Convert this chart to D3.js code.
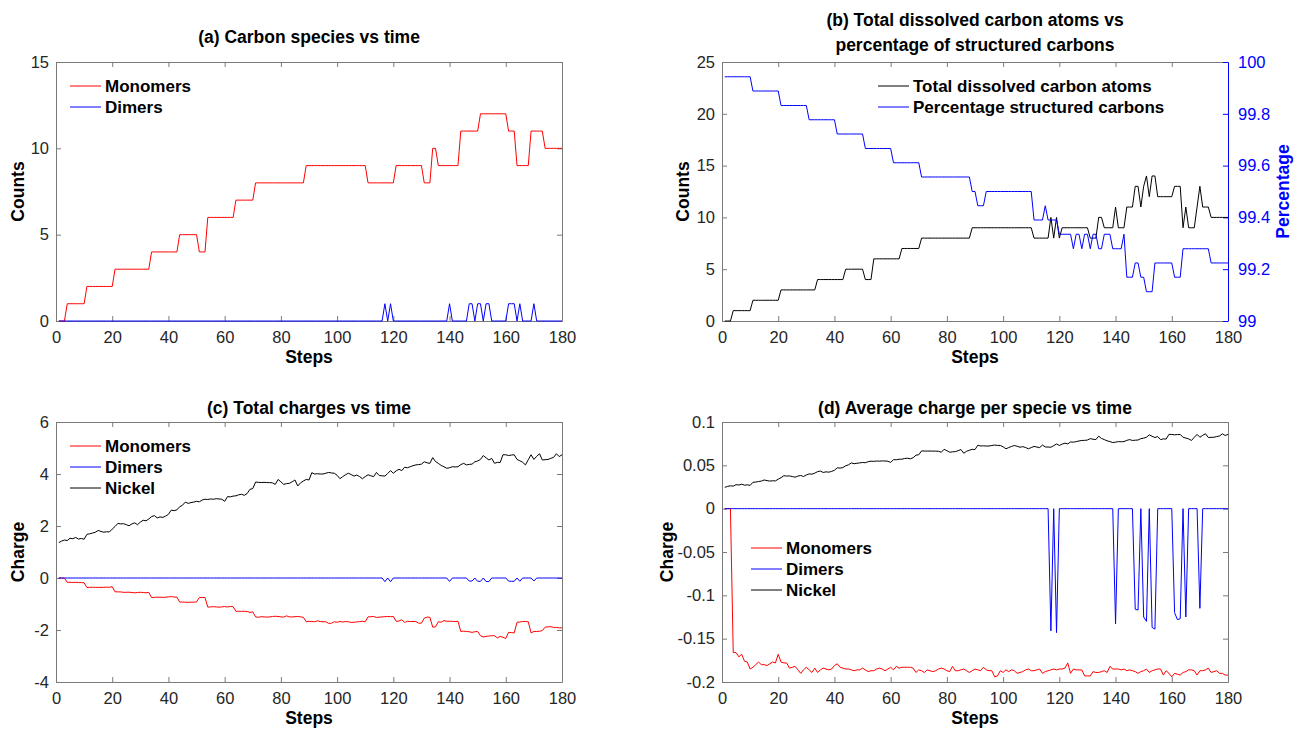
<!DOCTYPE html>
<html>
<head>
<meta charset="utf-8">
<script src="https://cdn.jsdelivr.net/npm/d3@7"></script>
<style>
  body { margin: 0; background: #fff; }
  svg { font-family: Helvetica, Arial, "Liberation Sans", sans-serif; }
  .axis path, .axis line { stroke: #7a7a7a; }
  .axis text { font-size: 16.5px; fill: #262626; }
  .axis.blue path, .axis.blue line { stroke: #0000ff; }
  .axis.blue text { fill: #0000ff; }
  .title { font-size: 17.5px; font-weight: bold; fill: #000; }
  .label { font-size: 17.5px; font-weight: bold; fill: #000; }
  .legend text { font-size: 17px; font-weight: bold; fill: #000; }
</style>
</head>
<body>
<svg id="chart" width="1306" height="736"></svg>
<script>
//simulation steps 1..180
const steps = d3.range(1, 181);
const xTicks = [0, 20, 40, 60, 80, 100, 120, 140, 160, 180];

//(a) carbon species counts
const monomerCount = [
  0,0,0,1,1,1,1,1,1,1, 2,2,2,2,2,2,2,2,2,2, 3,3,3,3,3,3,3,3,3,3,
  3,3,3,4,4,4,4,4,4,4, 4,4,4,5,5,5,5,5,5,5, 4,4,4,6,6,6,6,6,6,6,
  6,6,6,7,7,7,7,7,7,7, 8,8,8,8,8,8,8,8,8,8, 8,8,8,8,8,8,8,8,9,9,
  9,9,9,9,9,9,9,9,9,9, 9,9,9,9,9,9,9,9,9,9, 8,8,8,8,8,8,8,8,8,8,
  9,9,9,9,9,9,9,9,9,9, 8,8,8,10,10,9,9,9,9,9, 9,9,9,11,11,11,11,11,11,11,
  12,12,12,12,12,12,12,12,12,12, 11,11,11,9,9,9,9,9,11,11, 11,11,11,10,10,10,10,10,10,10
];
//steps where a dimer exists, and its charge at that step
const dimerSteps = [117, 119, 140, 147, 148, 150, 151, 153, 154, 161, 162, 163, 165, 170];
const dimerChargeAtSteps = [-0.141, -0.143, -0.133, -0.116, -0.117, -0.125, -0.130, -0.137, -0.139, -0.120, -0.128, -0.127, -0.125, -0.115];

//(b) dissolved carbon atoms and structured percentage
const dissolvedTotal = [
  0,0,0,1,1,1,1,1,1,1, 2,2,2,2,2,2,2,2,2,2, 3,3,3,3,3,3,3,3,3,3,
  3,3,3,4,4,4,4,4,4,4, 4,4,4,5,5,5,5,5,5,5, 4,4,4,6,6,6,6,6,6,6,
  6,6,6,7,7,7,7,7,7,7, 8,8,8,8,8,8,8,8,8,8, 8,8,8,8,8,8,8,8,9,9,
  9,9,9,9,9,9,9,9,9,9, 9,9,9,9,9,9,9,9,9,9, 8,8,8,8,8,8,10,8,10,8,
  9,9,9,9,9,9,9,9,9,9, 8,8,8,10,10,9,9,9,9,11, 9,9,9,11,11,11,13,13,11,13,
  14,12,14,14,12,12,12,12,12,12, 13,13,13,9,11,9,9,9,11,13, 11,11,11,10,10,10,10,10,10,10
];
const structuredPct = [
  99.943,99.943,99.943,99.943,99.943,99.943,99.943,99.943,99.943,99.943,
  99.888,99.888,99.888,99.888,99.888,99.888,99.888,99.888,99.888,99.888,
  99.832,99.832,99.832,99.832,99.832,99.832,99.832,99.832,99.832,99.832,
  99.777,99.777,99.777,99.777,99.777,99.777,99.777,99.777,99.777,99.777,
  99.722,99.722,99.722,99.722,99.722,99.722,99.722,99.722,99.722,99.722,
  99.666,99.666,99.666,99.666,99.666,99.666,99.666,99.666,99.666,99.666,
  99.611,99.611,99.611,99.611,99.611,99.611,99.611,99.611,99.611,99.611,
  99.556,99.556,99.556,99.556,99.556,99.556,99.556,99.556,99.556,99.556,
  99.556,99.556,99.556,99.556,99.556,99.556,99.556,99.556,99.500,99.500,
  99.445,99.445,99.445,99.500,99.500,99.500,99.500,99.500,99.500,99.500,
  99.500,99.500,99.500,99.500,99.500,99.500,99.500,99.500,99.500,99.500,
  99.390,99.390,99.390,99.390,99.445,99.390,99.390,99.390,99.390,99.335,
  99.335,99.335,99.335,99.335,99.279,99.335,99.335,99.279,99.335,99.335,
  99.279,99.335,99.335,99.279,99.279,99.335,99.335,99.335,99.279,99.279,
  99.279,99.279,99.335,99.169,99.169,99.169,99.224,99.224,99.169,99.169,
  99.113,99.113,99.113,99.224,99.224,99.224,99.224,99.224,99.224,99.224,
  99.169,99.169,99.169,99.279,99.279,99.279,99.279,99.279,99.279,99.279,
  99.279,99.279,99.279,99.224,99.224,99.224,99.224,99.224,99.224,99.224
];

//(c) total charges
const monomerCharge = [
  0,0,0,-0.166,-0.166,-0.171,-0.168,-0.176,-0.177,-0.185,
  -0.366,-0.360,-0.354,-0.360,-0.360,-0.362,-0.358,-0.354,-0.356,-0.336,
  -0.531,-0.534,-0.534,-0.552,-0.549,-0.546,-0.558,-0.570,-0.558,-0.549,
  -0.558,-0.567,-0.552,-0.756,-0.744,-0.736,-0.740,-0.744,-0.740,-0.724,
  -0.716,-0.732,-0.736,-0.925,-0.925,-0.930,-0.935,-0.930,-0.930,-0.920,
  -0.744,-0.752,-0.748,-1.122,-1.110,-1.104,-1.110,-1.122,-1.110,-1.098,
  -1.116,-1.092,-1.104,-1.281,-1.281,-1.281,-1.281,-1.288,-1.323,-1.302,
  -1.496,-1.512,-1.488,-1.496,-1.504,-1.496,-1.480,-1.472,-1.480,-1.496,
  -1.504,-1.456,-1.496,-1.496,-1.488,-1.480,-1.496,-1.512,-1.683,-1.665,
  -1.674,-1.683,-1.647,-1.674,-1.683,-1.683,-1.746,-1.737,-1.683,-1.701,
  -1.674,-1.692,-1.674,-1.683,-1.710,-1.701,-1.692,-1.674,-1.665,-1.683,
  -1.496,-1.488,-1.480,-1.520,-1.504,-1.496,-1.488,-1.480,-1.488,-1.480,
  -1.665,-1.656,-1.602,-1.710,-1.665,-1.674,-1.674,-1.674,-1.737,-1.737,
  -1.544,-1.504,-1.512,-1.890,-1.880,-1.683,-1.701,-1.638,-1.665,-1.665,
  -1.665,-1.674,-1.665,-2.057,-2.046,-2.057,-2.068,-2.090,-2.068,-2.057,
  -2.220,-2.268,-2.244,-2.232,-2.220,-2.220,-2.304,-2.244,-2.280,-2.328,
  -2.090,-2.101,-2.112,-1.701,-1.692,-1.674,-1.674,-1.683,-2.112,-2.057,
  -2.057,-2.046,-2.024,-1.890,-1.880,-1.870,-1.900,-1.900,-1.920,-1.920
];
const nickelCharge = [
  1.36,1.42,1.46,1.44,1.53,1.51,1.56,1.50,1.52,1.49, 1.68,1.70,1.73,1.76,1.83,1.79,1.76,1.78,1.77,1.88,
  1.98,2.10,2.08,2.09,2.05,2.01,2.08,2.12,2.05,2.15, 2.22,2.20,2.27,2.36,2.40,2.31,2.35,2.33,2.38,2.45,
  2.61,2.59,2.62,2.74,2.80,2.92,2.87,2.90,2.92,2.95, 2.93,3.00,3.03,3.02,3.04,3.03,3.05,3.04,3.03,2.95,
  3.13,3.12,3.15,3.16,3.20,3.22,3.18,3.25,3.41,3.44, 3.69,3.68,3.67,3.68,3.67,3.67,3.66,3.60,3.79,3.70,
  3.60,3.63,3.64,3.70,3.77,3.54,3.66,3.73,3.79,3.77, 4.05,4.00,4.01,4.00,4.00,4.03,4.06,4.04,4.03,3.95,
  3.82,3.90,3.97,4.03,3.98,3.92,3.96,3.90,3.82,3.90, 3.97,3.93,3.90,4.06,3.94,3.93,3.92,4.02,4.13,4.03,
  4.12,4.18,4.13,4.26,4.24,4.28,4.32,4.35,4.36,4.38, 4.47,4.43,4.41,4.63,4.48,4.41,4.33,4.28,4.22,4.24,
  4.28,4.27,4.28,4.36,4.41,4.35,4.37,4.38,4.47,4.50, 4.56,4.71,4.62,4.54,4.60,4.41,4.45,4.44,4.74,4.74,
  4.71,4.73,4.74,4.56,4.51,4.45,4.35,4.55,4.74,4.56, 4.68,4.78,4.54,4.55,4.56,4.60,4.64,4.78,4.67,4.74
];

//(d) average charge per specie
const monomerAvgCharge = [
  0,0,0,-0.166,-0.166,-0.171,-0.168,-0.176,-0.177,-0.185,
  -0.183,-0.180,-0.177,-0.180,-0.180,-0.181,-0.179,-0.177,-0.178,-0.168,
  -0.177,-0.178,-0.178,-0.184,-0.183,-0.182,-0.186,-0.190,-0.186,-0.183,
  -0.186,-0.189,-0.184,-0.189,-0.186,-0.184,-0.185,-0.186,-0.185,-0.181,
  -0.179,-0.183,-0.184,-0.185,-0.185,-0.186,-0.187,-0.186,-0.186,-0.184,
  -0.186,-0.188,-0.187,-0.187,-0.185,-0.184,-0.185,-0.187,-0.185,-0.183,
  -0.186,-0.182,-0.184,-0.183,-0.183,-0.183,-0.183,-0.184,-0.189,-0.186,
  -0.187,-0.189,-0.186,-0.187,-0.188,-0.187,-0.185,-0.184,-0.185,-0.187,
  -0.188,-0.182,-0.187,-0.187,-0.186,-0.185,-0.187,-0.189,-0.187,-0.185,
  -0.186,-0.187,-0.183,-0.186,-0.187,-0.187,-0.194,-0.193,-0.187,-0.189,
  -0.186,-0.188,-0.186,-0.187,-0.190,-0.189,-0.188,-0.186,-0.185,-0.187,
  -0.187,-0.186,-0.185,-0.190,-0.188,-0.187,-0.186,-0.185,-0.186,-0.185,
  -0.185,-0.184,-0.178,-0.190,-0.185,-0.186,-0.186,-0.186,-0.193,-0.193,
  -0.193,-0.188,-0.189,-0.189,-0.188,-0.187,-0.189,-0.182,-0.185,-0.185,
  -0.185,-0.186,-0.185,-0.187,-0.186,-0.187,-0.188,-0.190,-0.188,-0.187,
  -0.185,-0.189,-0.187,-0.186,-0.185,-0.185,-0.192,-0.187,-0.190,-0.194,
  -0.190,-0.191,-0.192,-0.189,-0.188,-0.186,-0.186,-0.187,-0.192,-0.187,
  -0.187,-0.186,-0.184,-0.189,-0.188,-0.187,-0.190,-0.190,-0.192,-0.192
];
const nickelAvgCharge = [
  0.0246,0.0257,0.0264,0.0260,0.0277,0.0273,0.0282,0.0271,0.0275,0.0269,
  0.0304,0.0307,0.0313,0.0318,0.0331,0.0324,0.0318,0.0322,0.0320,0.0340,
  0.0358,0.0380,0.0376,0.0378,0.0371,0.0363,0.0376,0.0383,0.0371,0.0389,
  0.0401,0.0398,0.0410,0.0427,0.0434,0.0418,0.0425,0.0421,0.0430,0.0443,
  0.0472,0.0468,0.0474,0.0495,0.0506,0.0528,0.0519,0.0524,0.0528,0.0533,
  0.0530,0.0542,0.0548,0.0546,0.0550,0.0548,0.0551,0.0550,0.0548,0.0533,
  0.0566,0.0564,0.0570,0.0571,0.0579,0.0582,0.0575,0.0588,0.0617,0.0622,
  0.0667,0.0665,0.0664,0.0665,0.0664,0.0664,0.0662,0.0651,0.0685,0.0669,
  0.0651,0.0656,0.0658,0.0669,0.0682,0.0640,0.0662,0.0674,0.0685,0.0682,
  0.0732,0.0723,0.0725,0.0723,0.0723,0.0729,0.0734,0.0730,0.0729,0.0714,
  0.0691,0.0705,0.0718,0.0729,0.0720,0.0709,0.0716,0.0705,0.0691,0.0705,
  0.0718,0.0711,0.0705,0.0734,0.0712,0.0711,0.0709,0.0727,0.0747,0.0729,
  0.0745,0.0756,0.0747,0.0770,0.0767,0.0774,0.0781,0.0787,0.0788,0.0792,
  0.0808,0.0801,0.0797,0.0837,0.0810,0.0797,0.0783,0.0774,0.0763,0.0767,
  0.0774,0.0772,0.0774,0.0788,0.0797,0.0787,0.0790,0.0792,0.0808,0.0814,
  0.0824,0.0852,0.0835,0.0821,0.0832,0.0797,0.0805,0.0803,0.0857,0.0857,
  0.0852,0.0855,0.0857,0.0824,0.0815,0.0805,0.0787,0.0823,0.0857,0.0824,
  0.0846,0.0864,0.0821,0.0823,0.0824,0.0832,0.0839,0.0864,0.0844,0.0857
];

//expand the sparse dimer lists to one value per step
const dimerCount = steps.map(s => (dimerSteps.includes(s) ? 1 : 0));
const dimerCharge = steps.map(s => {
  const k = dimerSteps.indexOf(s);
  return k < 0 ? 0 : dimerChargeAtSteps[k];
});

const svg = d3.select('#chart');
const RED = '#ff0000', BLUE = '#0000ff', BLACK = '#000000';

//number format like matlab: plain hyphen, no trailing zeros
const fmt = d => String(+d.toFixed(3)).replace('\u2212', '-');

//draw the box, ticks and labels of one panel
function makePanel(cfg) {
  const g = svg.append('g');
  const x = d3.scaleLinear().domain([0, 180]).range([cfg.left, cfg.right]);
  const y = d3.scaleLinear().domain(cfg.yDomain).range([cfg.bottom, cfg.top]);

  g.append('g').attr('class', 'axis')
    .attr('transform', `translate(0,${cfg.bottom})`)
    .call(d3.axisBottom(x).tickValues(xTicks).tickSizeInner(-5).tickSizeOuter(0).tickPadding(10).tickFormat(fmt));
  g.append('g').attr('class', 'axis')
    .attr('transform', `translate(0,${cfg.top})`)
    .call(d3.axisTop(x).tickValues(xTicks).tickSizeInner(-5).tickSizeOuter(0).tickFormat(''));
  g.append('g').attr('class', 'axis')
    .attr('transform', `translate(${cfg.left},0)`)
    .call(d3.axisLeft(y).tickValues(cfg.yTicks).tickSizeInner(-5).tickSizeOuter(0).tickPadding(7).tickFormat(fmt));
  if (!cfg.noRightMirror) {
    g.append('g').attr('class', 'axis')
      .attr('transform', `translate(${cfg.right},0)`)
      .call(d3.axisRight(y).tickValues(cfg.yTicks).tickSizeInner(-5).tickSizeOuter(0).tickFormat(''));
  }

  const cx = (cfg.left + cfg.right) / 2;
  cfg.title.forEach((t, i) => {
    g.append('text').attr('class', 'title')
      .attr('x', cx).attr('y', cfg.titleY + i * 25)
      .attr('text-anchor', 'middle').text(t);
  });
  g.append('text').attr('class', 'label')
    .attr('x', cx).attr('y', cfg.bottom + 42)
    .attr('text-anchor', 'middle').text('Steps');
  g.append('text').attr('class', 'label')
    .attr('transform', `translate(${cfg.yLabelX},${(cfg.top + cfg.bottom) / 2}) rotate(-90)`)
    .attr('text-anchor', 'middle').text(cfg.yLabel);

  return { g, x, y };
}

//add one data line
function addLine(p, values, color, yScale) {
  const ys = yScale || p.y;
  p.g.append('path')
    .datum(values)
    .attr('fill', 'none')
    .attr('stroke', color)
    .attr('stroke-width', 1)
    .attr('stroke-linejoin', 'round')
    .attr('d', d3.line().x((d, i) => p.x(steps[i])).y(d => ys(d)));
}

//matlab style legend without box
function addLegend(p, x0, y0, items) {
  const lg = p.g.append('g').attr('class', 'legend');
  items.forEach((it, i) => {
    const yy = y0 + i * 21;
    lg.append('line').attr('x1', x0).attr('x2', x0 + 31)
      .attr('y1', yy).attr('y2', yy)
      .attr('stroke', it.color).attr('stroke-width', 1);
    lg.append('text').attr('x', x0 + 35).attr('y', yy)
      .attr('dy', '0.35em').text(it.name);
  });
}

// (a) Carbon species vs time
const pa = makePanel({
  left: 56, right: 562, top: 62, bottom: 321,
  yDomain: [0, 15], yTicks: [0, 5, 10, 15],
  title: ['(a) Carbon species vs time'], titleY: 43,
  yLabel: 'Counts', yLabelX: 24
});
addLine(pa, monomerCount, RED);
addLine(pa, dimerCount, BLUE);
addLegend(pa, 70, 86, [{ name: 'Monomers', color: RED }, { name: 'Dimers', color: BLUE }]);

// (b) Total dissolved vs structured percentage
const pb = makePanel({
  left: 722, right: 1228, top: 62, bottom: 321,
  yDomain: [0, 25], yTicks: [0, 5, 10, 15, 20, 25],
  title: ['(b) Total dissolved carbon atoms vs', 'percentage of structured carbons'], titleY: 26,
  yLabel: 'Counts', yLabelX: 689, noRightMirror: true
});
const yPct = d3.scaleLinear().domain([99, 100]).range([321, 62]);
pb.g.append('g').attr('class', 'axis blue')
  .attr('transform', 'translate(1228,0)')
  .call(d3.axisRight(yPct).tickValues([99, 99.2, 99.4, 99.6, 99.8, 100]).tickSizeInner(-5).tickSizeOuter(0).tickPadding(10).tickFormat(fmt));
pb.g.append('text').attr('class', 'label')
  .attr('transform', `translate(1289,${(62 + 321) / 2}) rotate(-90)`)
  .attr('text-anchor', 'middle').attr('fill', BLUE).style('fill', BLUE).text('Percentage');
addLine(pb, dissolvedTotal, BLACK);
addLine(pb, structuredPct, BLUE, yPct);
addLegend(pb, 878, 86, [{ name: 'Total dissolved carbon atoms', color: BLACK }, { name: 'Percentage structured carbons', color: BLUE }]);

// (c) Total charges vs time
const pc = makePanel({
  left: 56, right: 562, top: 422, bottom: 682,
  yDomain: [-4, 6], yTicks: [-4, -2, 0, 2, 4, 6],
  title: ['(c) Total charges vs time'], titleY: 414,
  yLabel: 'Charge', yLabelX: 24
});
addLine(pc, monomerCharge, RED);
addLine(pc, dimerCharge, BLUE);
addLine(pc, nickelCharge, BLACK);
addLegend(pc, 70, 446, [{ name: 'Monomers', color: RED }, { name: 'Dimers', color: BLUE }, { name: 'Nickel', color: BLACK }]);

// (d) Average charge per specie vs time
const pd = makePanel({
  left: 722, right: 1228, top: 422, bottom: 682,
  yDomain: [-0.2, 0.1], yTicks: [-0.2, -0.15, -0.1, -0.05, 0, 0.05, 0.1],
  title: ['(d) Average charge per specie vs time'], titleY: 414,
  yLabel: 'Charge', yLabelX: 673
});
addLine(pd, monomerAvgCharge, RED);
addLine(pd, dimerCharge, BLUE);
addLine(pd, nickelAvgCharge, BLACK);
addLegend(pd, 751, 548, [{ name: 'Monomers', color: RED }, { name: 'Dimers', color: BLUE }, { name: 'Nickel', color: BLACK }]);
</script>
</body>
</html>
